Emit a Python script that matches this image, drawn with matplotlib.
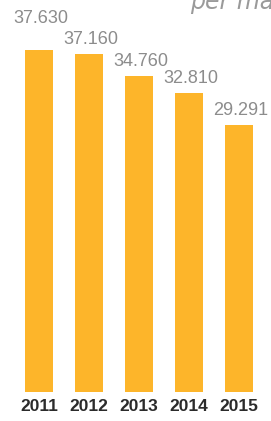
import matplotlib
matplotlib.use("Agg")
import matplotlib.pyplot as plt

years = ["2011", "2012", "2013", "2014", "2015"]
values = [37.630, 37.160, 34.760, 32.810, 29.291]
value_labels = ["37.630", "37.160", "34.760", "32.810", "29.291"]

W, H = 271, 421
fig = plt.figure(figsize=(W / 100, H / 100), dpi=100)
fig.patch.set_facecolor("white")

ax = fig.add_axes([14 / W, 29 / H, 250 / W, 392 / H])
x = list(range(len(years)))
ax.bar(x, values, width=0.56, color="#FDB52A", zorder=2)
ax.set_xlim(-0.5, 4.5)
ax.set_ylim(0, 392 / 9.1)
ax.axis("off")

offsets = [23, 6, 6, 6, 6]
for xi, v, lab, off in zip(x, values, value_labels, offsets):
    ax.annotate(lab, (xi, v), xytext=(2, off), textcoords="offset pixels",
                ha="center", va="bottom", fontsize=13,
                family="Liberation Sans", color="#8c8c8c")

for xi, yr in zip(x, years):
    ax.annotate(yr, (xi, 0), xytext=(0, -7), textcoords="offset pixels",
                ha="center", va="top", fontsize=12.5, fontweight="bold",
                family="Liberation Sans",
                color="#2b2b2b", annotation_clip=False)

fig.text(190 / W, 1 - 9 / H, "per ma", fontsize=17, style="italic",
         color="#9a9a9a", ha="left", va="baseline", family="DejaVu Sans")

fig.savefig("out.png", dpi=100, facecolor="white")
